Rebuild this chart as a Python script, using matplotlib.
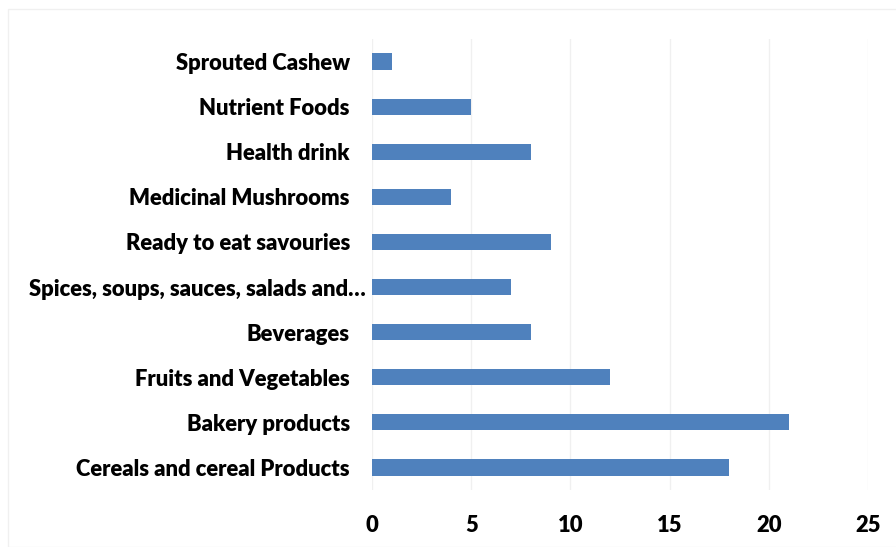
import matplotlib.pyplot as plt
import matplotlib.transforms as mtransforms
from matplotlib.patches import Rectangle

categories = ['Cereals and cereal Products', 'Bakery products', 'Fruits and Vegetables',
              'Beverages', 'Spices, soups, sauces, salads and…', 'Ready to eat savouries',
              'Medicinal Mushrooms', 'Health drink', 'Nutrient Foods', 'Sprouted Cashew']
counts = [18, 21, 12, 8, 7, 9, 4, 8, 5, 1]
xticks = [0, 5, 10, 15, 20, 25]

plt.rcParams['font.family'] = ['Lato', 'DejaVu Sans']

fig = plt.figure(figsize=(8.96, 5.47), dpi=100)
ax = fig.add_axes([372 / 896, 1 - 490 / 547, 496 / 896, 451 / 547])

# faint chart border
fig.patches.append(Rectangle((8 / 896, 0), 1, 1 - 9 / 547, transform=fig.transFigure,
                             fill=False, edgecolor='#f0f0f0', linewidth=1))

ax.barh(range(len(categories)), counts, height=0.36, color='#4f81bd', zorder=3)
ax.set_xlim(0, 25)
ax.set_ylim(-0.5, len(categories) - 0.5)
ax.set_xticks(xticks)
ax.set_yticks(range(len(categories)))
ax.set_yticklabels(categories)
ax.grid(axis='x', color='#f0f0f0', linewidth=1, zorder=0)
for s in ax.spines.values():
    s.set_visible(False)
ax.tick_params(length=0, labelsize=15.8)
ax.tick_params(axis='y', pad=16)
ax.tick_params(axis='x', pad=18)
for lab in ax.get_xticklabels() + ax.get_yticklabels():
    lab.set_fontweight('heavy')

# the truncated label sits a little further right, as in the original
fig.canvas.draw()
lab = ax.get_yticklabels()[4]
lab.set_transform(lab.get_transform() + mtransforms.ScaledTranslation(16 / 100, 0, fig.dpi_scale_trans))

fig.savefig('out.png', dpi=100)
